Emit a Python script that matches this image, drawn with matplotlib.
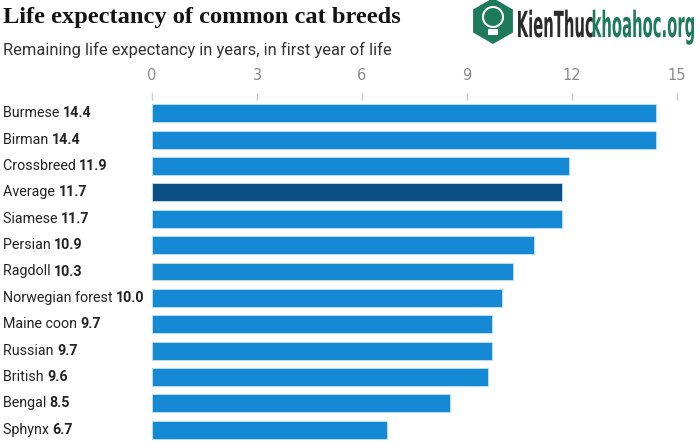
import matplotlib
matplotlib.use("Agg")
import matplotlib.pyplot as plt
import matplotlib.transforms as mtransforms
from matplotlib.patches import RegularPolygon, Circle, PathPatch, Rectangle
from matplotlib.textpath import TextPath
from matplotlib.font_manager import FontProperties

breeds = ["Burmese", "Birman", "Crossbreed", "Average", "Siamese", "Persian",
          "Ragdoll", "Norwegian forest", "Maine coon", "Russian", "British",
          "Bengal", "Sphynx"]
years = [14.4, 14.4, 11.9, 11.7, 11.7, 10.9, 10.3, 10.0, 9.7, 9.7, 9.6, 8.5, 6.7]
ticks = [0, 3, 6, 9, 12, 15]
highlight = "Average"

blue = "#1689d4"
dark = "#0a5084"
green = "#1d7a5a"

fig = plt.figure(figsize=(7, 4.43), dpi=100)
ax = fig.add_axes([152 / 700, 0.0, (677 - 152) / 700, 1 - 100 / 443])

ypos = list(range(len(breeds)))
colors = [dark if b == highlight else blue for b in breeds]
ax.barh(ypos, years, height=0.68, color=colors, edgecolor="#bfe0f5", linewidth=0.6)

ax.set_xlim(0, 15)
ax.set_ylim(len(breeds) - 0.5, -0.5)
ax.xaxis.tick_top()
ax.set_xticks(ticks)
ax.set_xticklabels([str(t) for t in ticks])
ax.tick_params(axis="x", colors="#c8c8c8", labelcolor="#8a8a8a", length=5,
               width=1, pad=7, labelsize=10.5)
ax.set_yticks([])
for s in ax.spines.values():
    s.set_visible(False)

# labels: name regular, value bold
tr = mtransforms.blended_transform_factory(fig.transFigure, ax.transData)
for y, b, v in zip(ypos, breeds, years):
    t = ax.text(3 / 700, y, b + " ", transform=tr, ha="left", va="center",
                fontsize=10.3, color="#222222", family="Roboto")
    ax.annotate(f"{v:.1f}", xy=(1, 0.5), xycoords=t, ha="left", va="center",
                fontsize=10.3, fontweight="bold", color="#222222", family="Roboto")

fig.text(3 / 700, 1 - 18 / 443, "Life expectancy of common cat breeds",
         fontsize=17.6, fontweight="bold", family="Liberation Serif",
         color="#121212", va="center", ha="left")
fig.text(3 / 700, 1 - 50 / 443, "Remaining life expectancy in years, in first year of life",
         fontsize=11.9, color="#333333", va="center", ha="left", family="Roboto")

# watermark (logo + condensed text), drawn in pixel coordinates
pix = mtransforms.Affine2D().scale(1 / 100) + fig.dpi_scale_trans
def P(x, y):
    return (x, 443 - y)
fig.add_artist(RegularPolygon(P(493, 21), numVertices=6, radius=23, orientation=0,
                              transform=pix, facecolor=green, edgecolor="none"))
fig.add_artist(Circle(P(493, 17), 10, transform=pix, facecolor="none",
                      edgecolor="white", linewidth=1.5))
fig.add_artist(Rectangle(P(488, 35), 10, 6, transform=pix, facecolor="white",
                         edgecolor="none"))

fp = FontProperties(family="DejaVu Sans", weight="bold")
words = [("KienThuc", "#2b2b2b"), ("khoahoc.org", green)]
paths = [TextPath((0, 0), w, size=10, prop=fp) for w, _ in words]
total = sum(p.get_extents().width for p in paths)
sx = 176 / total
sy = 3.6
x0 = 518
for path, (w, col) in zip(paths, words):
    ext = path.get_extents()
    t = mtransforms.Affine2D().translate(-ext.x0, 0).scale(sx, sy).translate(x0, 443 - 37) + pix
    fig.add_artist(PathPatch(path, transform=t, facecolor=col, edgecolor="none"))
    x0 += ext.width * sx

fig.savefig("out.png", dpi=100)
